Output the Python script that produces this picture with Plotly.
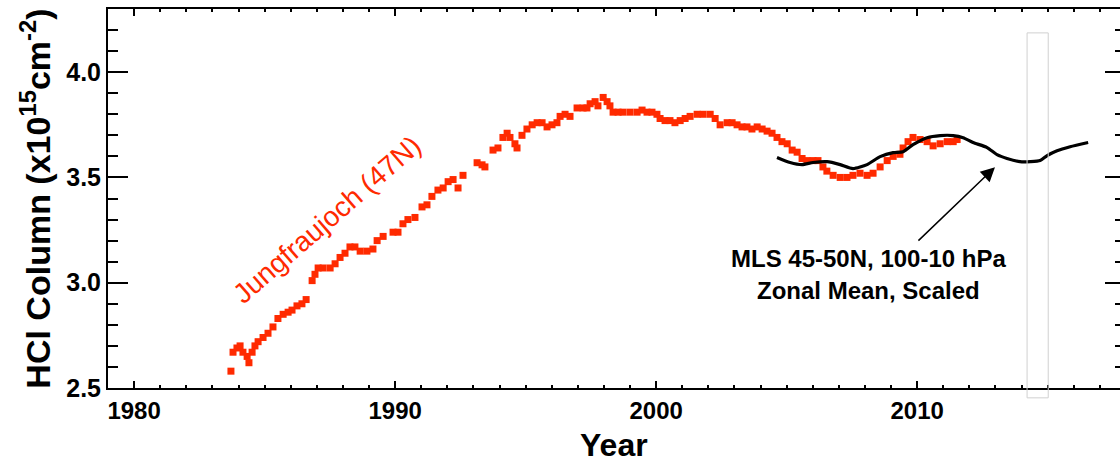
import plotly.graph_objects as go

# Jungfraujoch (47N) HCl column, x1e15 cm^-2
jfj_year = [1983.71, 1983.79, 1983.94, 1984.06, 1984.17, 1984.33, 1984.40, 1984.52, 1984.63, 1984.75,
            1984.94, 1985.13, 1985.32, 1985.51, 1985.71, 1985.90, 1986.05, 1986.24, 1986.43, 1986.59,
            1986.82, 1986.93, 1987.05, 1987.24, 1987.51, 1987.70, 1987.89, 1988.08, 1988.27, 1988.46,
            1988.66, 1988.92, 1989.15, 1989.31, 1989.54, 1989.92, 1990.11, 1990.30, 1990.49, 1990.76,
            1991.03, 1991.22, 1991.41, 1991.64, 1991.84, 1992.03, 1992.22, 1992.41, 1992.60, 1993.14,
            1993.33, 1993.44, 1993.75, 1993.94, 1994.13, 1994.29, 1994.40, 1994.59, 1994.67, 1994.86,
            1995.05, 1995.25, 1995.44, 1995.63, 1995.82, 1996.01, 1996.20, 1996.32, 1996.51, 1996.70,
            1996.97, 1997.20, 1997.35, 1997.47, 1997.66, 1997.77, 1997.97, 1998.12, 1998.23, 1998.35,
            1998.54, 1998.73, 1999.00, 1999.27, 1999.46, 1999.65, 1999.84, 2000.03, 2000.15, 2000.34,
            2000.53, 2000.72, 2000.92, 2001.11, 2001.30, 2001.57, 2001.80, 2002.07, 2002.26, 2002.45,
            2002.72, 2002.91, 2003.10, 2003.29, 2003.48, 2003.67, 2003.87, 2004.06, 2004.25, 2004.44,
            2004.63, 2004.82, 2005.02, 2005.21, 2005.40, 2005.59, 2005.78, 2006.01, 2006.20, 2006.39,
            2006.54, 2006.78, 2007.05, 2007.31, 2007.54, 2007.81, 2008.08, 2008.31, 2008.58, 2008.85,
            2009.08, 2009.34, 2009.46, 2009.65, 2009.84, 2010.11, 2010.38, 2010.61, 2010.88, 2011.15,
            2011.38, 2011.53]
jfj_hcl = [2.58, 2.67, 2.69, 2.70, 2.67, 2.65, 2.62, 2.67, 2.70, 2.72,
           2.74, 2.76, 2.79, 2.83, 2.85, 2.86, 2.87, 2.89, 2.90, 2.92,
           3.01, 3.04, 3.07, 3.07, 3.07, 3.09, 3.12, 3.14, 3.17, 3.17,
           3.15, 3.15, 3.16, 3.20, 3.22, 3.24, 3.24, 3.28, 3.30, 3.31,
           3.36, 3.37, 3.41, 3.44, 3.45, 3.48, 3.49, 3.45, 3.51, 3.57,
           3.56, 3.55, 3.63, 3.64, 3.69, 3.71, 3.69, 3.66, 3.64, 3.70,
           3.73, 3.75, 3.76, 3.76, 3.74, 3.75, 3.76, 3.79, 3.80, 3.79,
           3.83, 3.83, 3.83, 3.85, 3.86, 3.84, 3.88, 3.86, 3.84, 3.81,
           3.81, 3.81, 3.81, 3.81, 3.82, 3.81, 3.81, 3.80, 3.78, 3.77,
           3.77, 3.76, 3.77, 3.78, 3.79, 3.80, 3.80, 3.80, 3.78, 3.75,
           3.76, 3.76, 3.75, 3.74, 3.74, 3.73, 3.74, 3.73, 3.72, 3.71,
           3.69, 3.67, 3.66, 3.63, 3.62, 3.59, 3.58, 3.58, 3.58, 3.55,
           3.53, 3.51, 3.50, 3.50, 3.51, 3.52, 3.51, 3.52, 3.55, 3.58,
           3.60, 3.61, 3.64, 3.67, 3.69, 3.68, 3.67, 3.65, 3.66, 3.67,
           3.67, 3.68]

# MLS 45-50N, 100-10 hPa zonal mean, scaled
mls_year = [2004.63, 2005.13, 2005.59, 2006.01, 2006.55, 2007.05, 2007.54, 2008.08, 2008.58, 2009.08,
            2009.46, 2009.84, 2010.38, 2010.88, 2011.38, 2011.76, 2012.14, 2012.68, 2013.06, 2013.44,
            2013.94, 2014.33, 2014.71, 2014.98, 2015.36, 2015.86, 2016.55]
mls_hcl = [3.595, 3.571, 3.561, 3.571, 3.575, 3.561, 3.542, 3.561, 3.599, 3.618,
           3.622, 3.656, 3.689, 3.699, 3.699, 3.689, 3.666, 3.642, 3.608, 3.590,
           3.575, 3.575, 3.580, 3.604, 3.627, 3.646, 3.666]

x_range = [1979, 2017.77]
y_range = [2.5, 4.3]
x_ticks = [1980, 1990, 2000, 2010]
y_ticks = [2.5, 3.0, 3.5, 4.0]

RED = "#ff2a00"
FONT = "Liberation Sans"

fig = go.Figure()
fig.add_trace(go.Scatter(x=jfj_year, y=jfj_hcl, mode="markers",
                         marker=dict(symbol="square", size=7, color=RED, line=dict(width=0)),
                         showlegend=False, hoverinfo="skip"))
fig.add_trace(go.Scatter(x=mls_year, y=mls_hcl, mode="lines",
                         line=dict(color="black", width=3.2, shape="spline", smoothing=0.6),
                         showlegend=False, hoverinfo="skip"))
# dummy trace so that the right-side tick axis is drawn
fig.add_trace(go.Scatter(x=[None], y=[None], yaxis="y2", showlegend=False, hoverinfo="skip"))

fig.update_layout(
    width=1120, height=462,
    margin=dict(l=108, r=0, t=9, b=74, autoexpand=False),
    paper_bgcolor="white", plot_bgcolor="white",
    font=dict(family=FONT, color="black"),
    xaxis=dict(range=x_range, tickvals=x_ticks, ticktext=[str(v) for v in x_ticks],
               automargin=False,
               showgrid=False, zeroline=False, showline=True, linecolor="black", linewidth=2,
               mirror="ticks", ticks="inside", ticklen=7, tickwidth=2, tickcolor="black",
               tickfont=dict(family=FONT, size=24, color="black", weight="bold"),
               minor=dict(dtick=1, tick0=1980, ticks="inside", ticklen=3, tickwidth=2, tickcolor="black")),
    yaxis=dict(range=y_range, tickvals=y_ticks, ticktext=[f"{v:.1f}" for v in y_ticks],
               automargin=False,
               showgrid=False, zeroline=False, showline=True, linecolor="black", linewidth=2,
               ticks="inside", ticklen=20, tickwidth=2, tickcolor="black",
               tickfont=dict(family=FONT, size=25, color="black", weight="bold"),
               minor=dict(dtick=0.1, tick0=2.5, ticks="inside", ticklen=10, tickwidth=2, tickcolor="black")),
    yaxis2=dict(range=y_range, overlaying="y", side="right", anchor="x", automargin=False,
                tickvals=y_ticks, showticklabels=False, showgrid=False, zeroline=False, showline=False,
                ticks="inside", ticklen=15, tickwidth=2, tickcolor="black",
                minor=dict(dtick=0.1, tick0=2.5, ticks="inside", ticklen=5, tickwidth=2, tickcolor="black")),
)

# axis titles
fig.add_annotation(x=0.5, y=-0.15, xref="paper", yref="paper", text="Year", showarrow=False,
                   xanchor="center", yanchor="middle",
                   font=dict(family=FONT, size=32, color="black", weight="bold"))
fig.add_annotation(x=-0.072, y=0.5, xref="paper", yref="paper",
                   text="HCl Column (x10<sup>15</sup>cm<sup>-2</sup>)", showarrow=False, textangle=-90,
                   xanchor="center", yanchor="middle",
                   font=dict(family=FONT, size=34, color="black", weight="bold"))

# thin light-gray box on the right
fig.add_shape(type="rect", xref="x", yref="paper", x0=2014.21, x1=2015.02, y0=-0.026, y1=0.937,
              line=dict(color="#d0d0d0", width=1), fillcolor="rgba(0,0,0,0)", layer="above")

fig.add_annotation(x=1987.4, y=3.30, xref="x", yref="y", text="Jungfraujoch (47N)",
                   showarrow=False, textangle=-41,
                   font=dict(family=FONT, size=28, color=RED))

fig.add_annotation(x=2012.98, y=3.549, ax=2009.99, ay=3.193, xref="x", yref="y", axref="x", ayref="y",
                   text="", showarrow=True, arrowhead=2, arrowsize=1.9, arrowwidth=1.5, arrowcolor="black")

fig.add_annotation(x=2008.12, y=3.113, xref="x", yref="y", text="MLS 45-50N, 100-10 hPa",
                   showarrow=False, font=dict(family=FONT, size=24, color="black", weight="bold"))
fig.add_annotation(x=2008.12, y=2.965, xref="x", yref="y", text="Zonal Mean, Scaled",
                   showarrow=False, font=dict(family=FONT, size=24, color="black", weight="bold"))

fig.write_html("out.html", config={"displayModeBar": False},
               post_script="document.body.style.margin='0';document.body.style.overflow='hidden';")
